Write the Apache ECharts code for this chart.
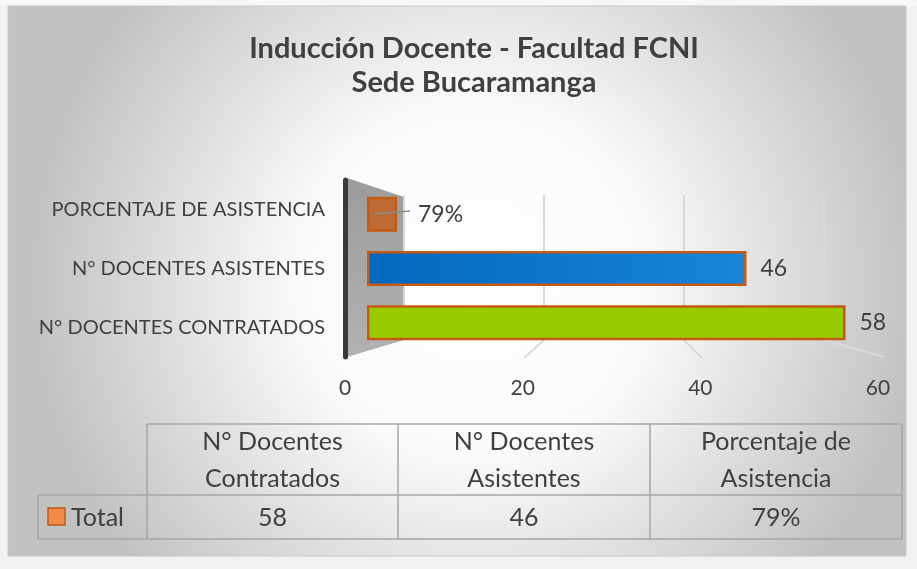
<!DOCTYPE html>
<html><head><meta charset="utf-8">
<script src="https://cdn.jsdelivr.net/npm/echarts@6/dist/echarts.min.js"></script>
<style>html,body{margin:0;padding:0;background:#f2f2f2;}#c{width:917px;height:569px;}</style>
</head><body><div id="c"></div>
<script>
const titleLines = ['Inducción Docente - Facultad FCNI', 'Sede Bucaramanga'];
const categories = ['N° DOCENTES CONTRATADOS', 'N° DOCENTES ASISTENTES', 'PORCENTAJE DE ASISTENCIA'];
const values = [58, 46, 0.79];
const valueLabels = ['58', '46', '79%'];
const xTicks = [0, 20, 40, 60];
const tableHeaders = ['N° Docentes\nContratados', 'N° Docentes\nAsistentes', 'Porcentaje de\nAsistencia'];
const tableSeriesName = 'Total';
const tableValues = ['58', '46', '79%'];

const FONT = 'Lato, "Open Sans", sans-serif';
const TXT = '#404040';
const barColors = [
  '#99CC00',
  {type:'linear',x:0,y:0,x2:1,y2:0,colorStops:[{offset:0,color:'#0468BF'},{offset:1,color:'#1786D8'}]},
  'rgba(197,90,17,0.75)'
];

const chart = echarts.init(document.getElementById('c'), null, {renderer:'canvas'});

// data table geometry
const colX = [38, 147, 398, 650, 902];
const rowY = [424, 495, 539];
const tableGraphics = [];
const lc = '#a6a6a6';
function line(x1,y1,x2,y2){tableGraphics.push({type:'line',shape:{x1,y1,x2,y2},style:{stroke:lc,lineWidth:1.5},z:5});}
line(colX[1], rowY[0], colX[4], rowY[0]);
line(colX[0], rowY[1], colX[4], rowY[1]);
line(colX[0], rowY[2], colX[4], rowY[2]);
line(colX[0], rowY[1], colX[0], rowY[2]);
for (let i=1;i<colX.length;i++) line(colX[i], rowY[0], colX[i], rowY[2]);
tableHeaders.forEach((h,i)=>{
  tableGraphics.push({type:'text',x:(colX[i+1]+colX[i+2])/2,y:(rowY[0]+rowY[1])/2+1,
    style:{text:h,font:'25px '+FONT,fill:TXT,align:'center',verticalAlign:'middle',lineHeight:37},z:6});
});
tableValues.forEach((v,i)=>{
  tableGraphics.push({type:'text',x:(colX[i+1]+colX[i+2])/2,y:(rowY[1]+rowY[2])/2+1,
    style:{text:v,font:'25px '+FONT,fill:TXT,align:'center',verticalAlign:'middle'},z:6});
});
tableGraphics.push({type:'rect',shape:{x:48,y:508,width:17,height:17},style:{fill:'#F08A4B',stroke:'#C55A11',lineWidth:1.5},z:6});
tableGraphics.push({type:'text',x:71,y:(rowY[1]+rowY[2])/2+1,style:{text:tableSeriesName,font:'25px '+FONT,fill:TXT,align:'left',verticalAlign:'middle'},z:6});

const option = {
  animation:false,
  backgroundColor:'#f2f2f2',
  title:{
    text: titleLines.join('\n'),
    left: 469, top: 27, textAlign:'center',
    textStyle:{fontFamily:FONT,fontSize:29,fontWeight:'bold',color:TXT,lineHeight:34}
  },
  graphic:[
    {type:'rect',shape:{x:0,y:0,width:917,height:6},style:{fill:'#f7f7f7'},z:-12},
    {type:'rect',shape:{x:8,y:6,width:898,height:550},
      style:{fill:{type:'radial',x:0.52,y:0.5,r:0.8,colorStops:[{offset:0,color:'#ffffff'},{offset:0.4,color:'#fafafa'},{offset:1,color:'#c2c2c2'}]},
      stroke:'#c8c8c8',lineWidth:1},z:-10},
    {type:'polygon',shape:{points:[[347,178],[404,197],[404,340],[347,357]]},
      style:{fill:{type:'linear',x:0,y:0,x2:0,y2:1,colorStops:[{offset:0,color:'#9c9c9c'},{offset:1,color:'#b2b2b2'}]}},z:-5},
    {type:'line',shape:{x1:544,y1:340,x2:524,y2:358},style:{stroke:'#dadada',lineWidth:2},z:-4},
    {type:'line',shape:{x1:684,y1:340,x2:702,y2:358},style:{stroke:'#dadada',lineWidth:2},z:-4},
    {type:'line',shape:{x1:824,y1:340,x2:884,y2:357},style:{stroke:'#dadada',lineWidth:2},z:-4},
    {type:'line',shape:{x1:374,y1:214,x2:410,y2:211},style:{stroke:'#8c8c8c',lineWidth:1.5},z:20}
  ].concat(tableGraphics),
  grid:[
    {left:367,top:187,width:495,height:163},
    {left:345,top:180,width:533,height:177},
    {left:404,top:195,width:420,height:145}
  ],
  xAxis:[
    {gridIndex:0,type:'value',min:0,max:60,interval:20,show:false},
    {gridIndex:1,type:'value',min:0,max:60,interval:20,data:xTicks,
      axisLine:{show:false},axisTick:{show:false},splitLine:{show:false},
      axisLabel:{margin:21,fontSize:21,color:TXT,fontFamily:FONT}},
    {gridIndex:2,type:'value',min:0,max:60,interval:20,
      axisLine:{show:false},axisTick:{show:false},axisLabel:{show:false},
      splitLine:{show:true,lineStyle:{color:'#d9d9d9',width:2}}}
  ],
  yAxis:[
    {gridIndex:0,type:'category',data:categories,show:false},
    {gridIndex:1,type:'category',data:categories,
      axisLine:{show:true,lineStyle:{color:'#3a3a3a',width:5}},axisTick:{show:false},splitLine:{show:false},
      axisLabel:{margin:20,fontSize:20,color:TXT,fontFamily:FONT}},
    {gridIndex:2,type:'value',min:0,max:1,show:false}
  ],
  series:[{
    type:'bar',xAxisIndex:0,yAxisIndex:0,
    barWidth:35,barMinHeight:30,
    data: values.map((v,i)=>({value:v,itemStyle:{color:barColors[i]},label:{distance:i===2?21:14}})),
    itemStyle:{borderColor:'#C55A11',borderWidth:2.5},
    label:{show:true,position:'right',fontSize:23,color:TXT,fontFamily:FONT,
      formatter:p=>valueLabels[p.dataIndex]}
  }]
};
chart.setOption(option);
</script></body></html>
